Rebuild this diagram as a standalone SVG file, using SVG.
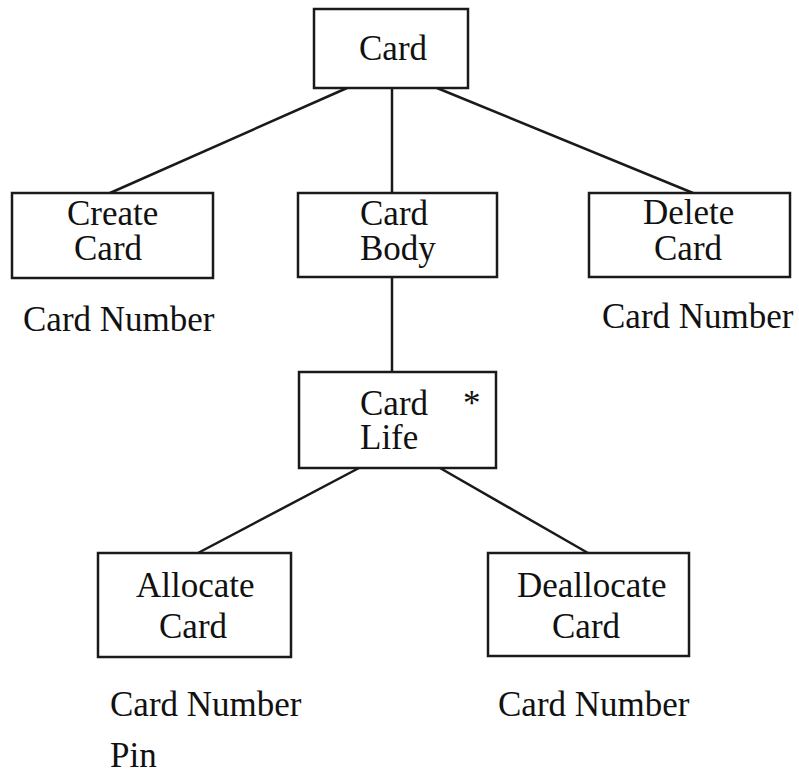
<svg xmlns="http://www.w3.org/2000/svg" width="799" height="774" viewBox="0 0 799 774">
<style>
.box{fill:#fff;stroke:#1a1a1a;stroke-width:2.5}
.ln{stroke:#1a1a1a;stroke-width:2.5;fill:none}
.t{font-family:'Liberation Serif','Times New Roman',Times,serif;font-size:35px;fill:#111}
</style>
<rect width="799" height="774" fill="#fff"/>
<g id="connectors">
<line class="ln" x1="347" y1="88" x2="110" y2="193"/>
<line class="ln" x1="392" y1="88" x2="392" y2="193"/>
<line class="ln" x1="437" y1="88" x2="693" y2="193"/>
<line class="ln" x1="392" y1="277" x2="392" y2="372"/>
<line class="ln" x1="359" y1="468" x2="198" y2="553"/>
<line class="ln" x1="440" y1="468" x2="588" y2="553"/>
</g>
<g class="t" font-family="Liberation Serif, serif">
<g id="card">
<rect class="box" x="314" y="9" width="154" height="79"/>
<text x="359" y="60">Card</text>
</g>
<g id="create-card">
<rect class="box" x="12" y="193" width="201" height="85"/>
<text x="67" y="225">Create</text>
<text x="74" y="260">Card</text>
<text x="23" y="331">Card Number</text>
</g>
<g id="card-body">
<rect class="box" x="298" y="193" width="199" height="84"/>
<text x="360" y="225">Card</text>
<text x="360" y="260">Body</text>
</g>
<g id="delete-card">
<rect class="box" x="589" y="193" width="201" height="84"/>
<text x="643" y="224">Delete</text>
<text x="654" y="260">Card</text>
<text x="602" y="328">Card Number</text>
</g>
<g id="card-life">
<rect class="box" x="299" y="372" width="197" height="96"/>
<text x="360" y="415">Card</text>
<text x="463" y="415">*</text>
<text x="360" y="449">Life</text>
</g>
<g id="allocate-card">
<rect class="box" x="98" y="553" width="193" height="104"/>
<text x="136" y="597">Allocate</text>
<text x="159" y="638">Card</text>
<text x="110" y="716">Card Number</text>
<text x="110" y="767">Pin</text>
</g>
<g id="deallocate-card">
<rect class="box" x="488" y="553" width="201" height="103"/>
<text x="517" y="597">Deallocate</text>
<text x="552" y="638">Card</text>
<text x="498" y="716">Card Number</text>
</g>
</g>
</svg>
